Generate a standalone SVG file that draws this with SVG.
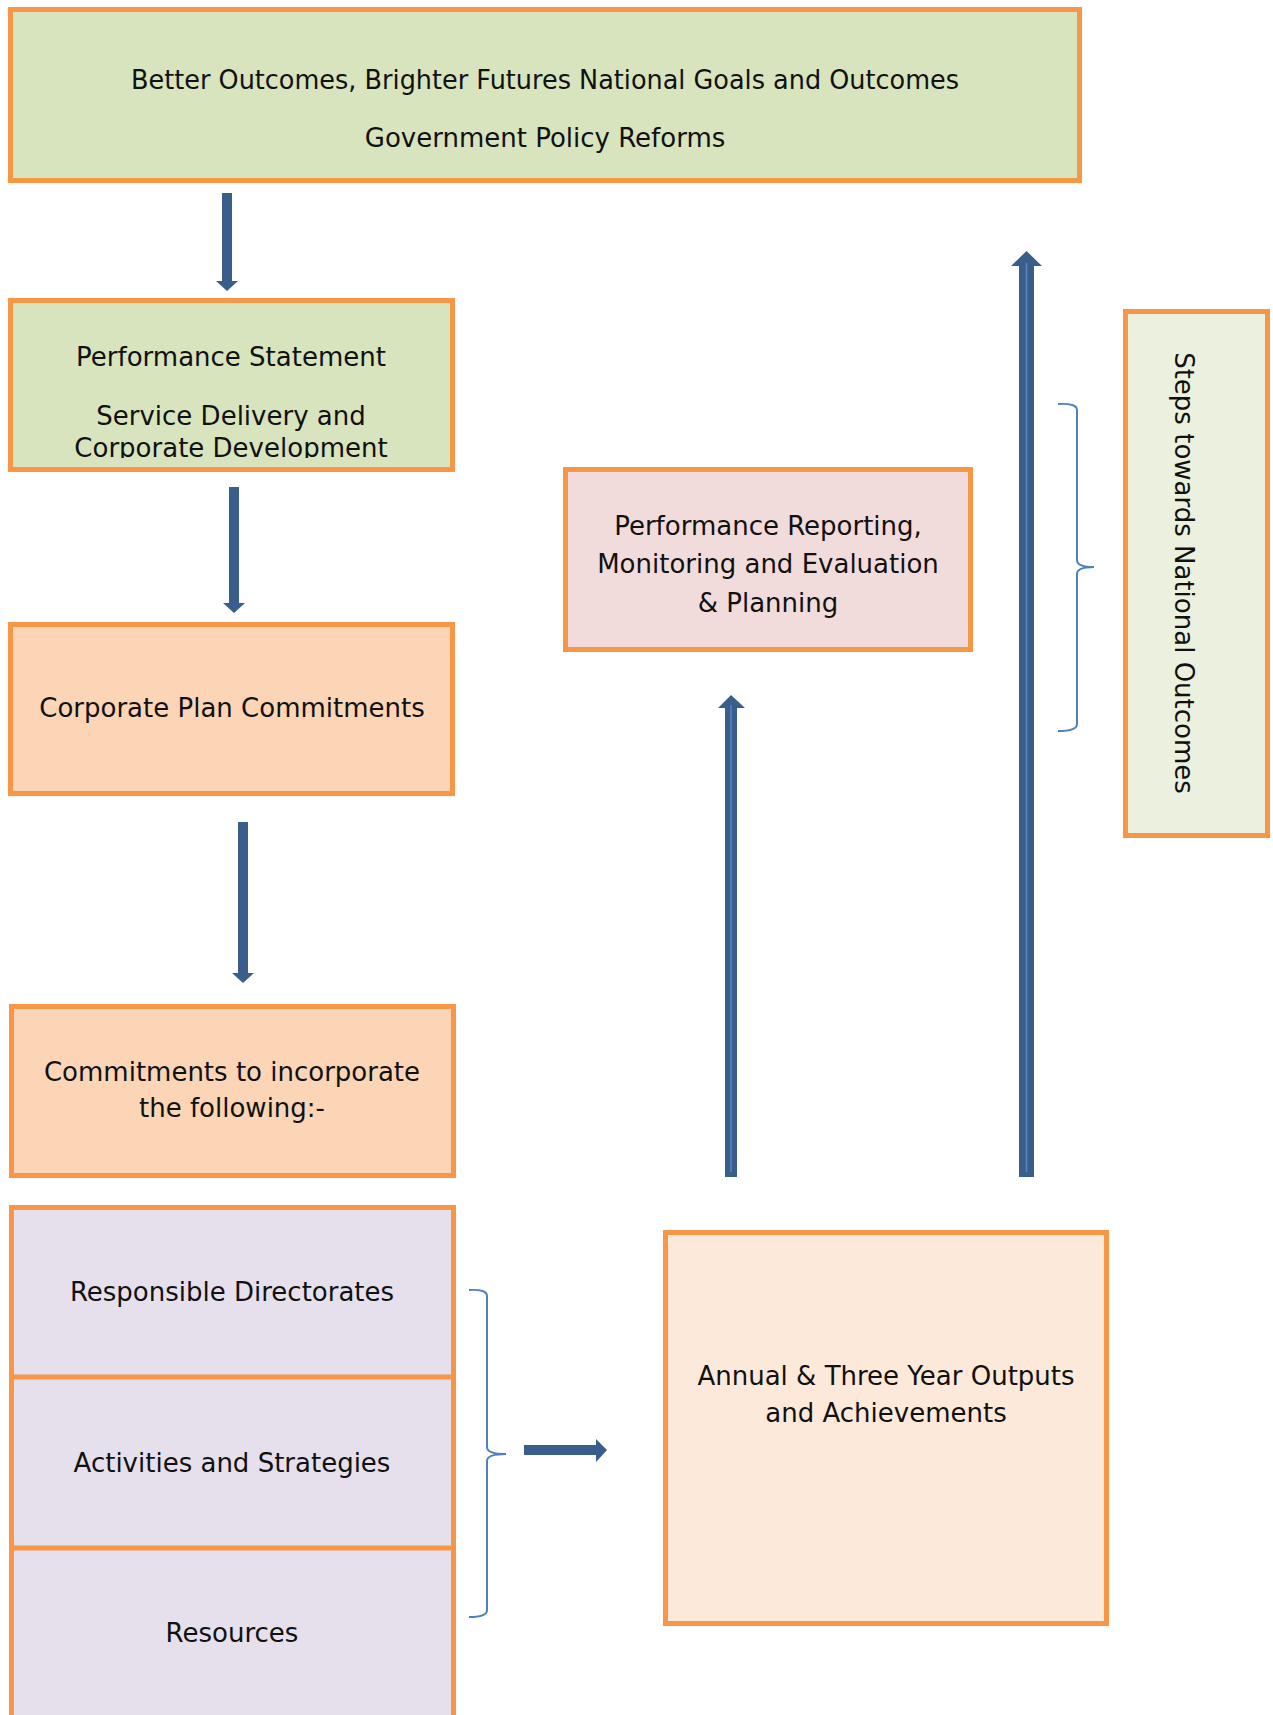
<svg xmlns="http://www.w3.org/2000/svg" width="1273" height="1715" viewBox="0 0 1273 1715">
<style>
.box{stroke:#F79646;stroke-width:5}
.t{font-family:"DejaVu Sans",sans-serif;font-size:26px;fill:#111;text-anchor:middle}
.arr{fill:#3A5E8C}
.hl{stroke:#5A86BE;stroke-width:1.5}
.brace{fill:none;stroke:#4F81BD;stroke-width:2}
</style>
<defs>
<clipPath id="clipPS"><rect x="13" y="303" width="437" height="155"/></clipPath>
</defs>
<rect width="1273" height="1715" fill="#fff"/>
<g id="connectors">
<path class="arr" d="M222,193 H232 V281 H238 L227,291 L216,281 H222 Z"/>
<path class="arr" d="M229,487 H239 V603 H245 L234,613 L223,603 H229 Z"/>
<path class="arr" d="M238,822 H248 V973 H254 L243,983 L232,973 H238 Z"/>
<path class="arr" d="M725,1177 V708 H718 L731,695 L745,708 H737 V1177 Z"/>
<line class="hl" x1="731" y1="705" x2="731" y2="1172"/>
<path class="arr" d="M1019,1177 V266 H1011 L1026.5,251 L1042,266 H1034 V1177 Z"/>
<line class="hl" x1="1026.5" y1="263" x2="1026.5" y2="1172" stroke-width="3"/>
<path class="arr" d="M524,1445 H596 V1439 L607,1450 L596,1462 V1455 H524 Z"/>
<path class="brace" d="M469,1290 Q487,1289 487,1296 V1447 Q487,1454 506,1454 Q487,1454 487,1461 V1610 Q487,1617 469,1617"/>
<path class="brace" d="M1058,404 Q1077,403 1077,410 V560 Q1077,567 1094,567 Q1077,567 1077,574 V724 Q1077,731 1058,731"/>
</g>
<g id="node-goals">
<rect class="box" x="10.5" y="9.5" width="1069" height="171" fill="#D7E4BD"/>
<text class="t" x="545" y="89" textLength="828" lengthAdjust="spacingAndGlyphs">Better Outcomes, Brighter Futures National Goals and Outcomes</text>
<text class="t" x="545" y="147">Government Policy Reforms</text>
</g>
<g id="node-performance-statement">
<rect class="box" x="10.5" y="300.5" width="442" height="169" fill="#D7E4BD"/>
<g clip-path="url(#clipPS)">
<text class="t" x="231" y="366">Performance Statement</text>
<text class="t" x="231" y="425">Service Delivery and</text>
<text class="t" x="231" y="457">Corporate Development</text>
</g>
</g>
<g id="node-corporate-plan">
<rect class="box" x="10.5" y="624.5" width="442" height="169" fill="#FBD5B5"/>
<text class="t" x="232" y="717">Corporate Plan Commitments</text>
</g>
<g id="node-commitments">
<rect class="box" x="11.5" y="1006.5" width="442" height="169" fill="#FBD5B5"/>
<text class="t" x="232" y="1081">Commitments to incorporate</text>
<text class="t" x="232" y="1117">the following:-</text>
</g>
<g id="node-stack">
<rect class="box" x="11.5" y="1207.5" width="442" height="520" fill="#E5E0EC"/>
<line class="box" x1="11.5" y1="1377" x2="453.5" y2="1377"/>
<line class="box" x1="11.5" y1="1548" x2="453.5" y2="1548"/>
<text class="t" x="232" y="1301">Responsible Directorates</text>
<text class="t" x="232" y="1472">Activities and Strategies</text>
<text class="t" x="232" y="1642">Resources</text>
</g>
<g id="node-reporting">
<rect class="box" x="565.5" y="469.5" width="405" height="180" fill="#F2DCDB"/>
<text class="t" x="768" y="535">Performance Reporting,</text>
<text class="t" x="768" y="573">Monitoring and Evaluation</text>
<text class="t" x="768" y="612">&amp; Planning</text>
</g>
<g id="node-outputs">
<rect class="box" x="665.5" y="1232.5" width="441" height="391" fill="#FDE9D9"/>
<text class="t" x="886" y="1385">Annual &amp; Three Year Outputs</text>
<text class="t" x="886" y="1422">and Achievements</text>
</g>
<g id="node-steps">
<rect class="box" x="1125.5" y="311.5" width="142" height="524" fill="#EBF1DE"/>
<text class="t" transform="translate(1175,573) rotate(90)">Steps towards National Outcomes</text>
</g>
</svg>
